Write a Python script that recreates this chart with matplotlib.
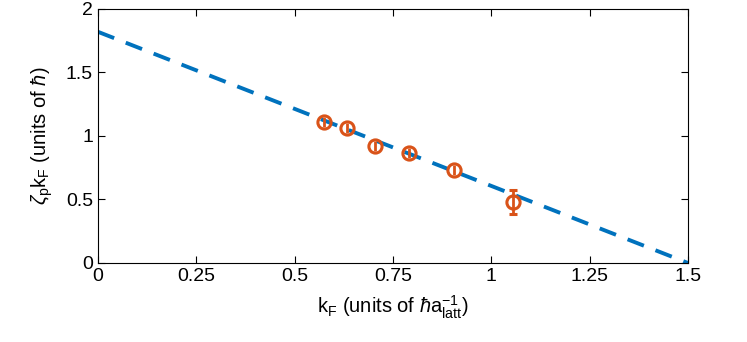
import matplotlib
matplotlib.use("Agg")
import matplotlib.pyplot as plt
import numpy as np

plt.rcParams['font.family'] = ['Liberation Sans', 'DejaVu Sans']
plt.rcParams['mathtext.fontset'] = 'custom'
plt.rcParams['mathtext.rm'] = 'Liberation Sans'
plt.rcParams['mathtext.it'] = 'Liberation Sans:italic'

# measured points
kF = [0.575, 0.633, 0.704, 0.791, 0.905, 1.055]
zeta_kF = [1.110, 1.063, 0.921, 0.866, 0.732, 0.480]
err = [0.038, 0.038, 0.038, 0.038, 0.038, 0.094]

# linear fit line
fit_x = [0.0, 1.5]
fit_y = [1.82, 0.0]

fig = plt.figure(figsize=(7.47, 3.42), dpi=100)
ax = fig.add_axes([0.131, 0.231, 0.79, 0.743])

ax.plot(fit_x, fit_y, color='#0072BD', linewidth=2.8, dashes=(4.5, 3.2))
# small error bars hide under the marker ring, only the last one shows caps
ax.errorbar(kF[:-1], zeta_kF[:-1], yerr=err[:-1], fmt='o', color='#D95319', mfc='none',
            markersize=9.5, mew=2.2, elinewidth=2, capsize=0)
ax.errorbar(kF[-1:], zeta_kF[-1:], yerr=err[-1:], fmt='o', color='#D95319', mfc='none',
            markersize=9.5, mew=2.2, elinewidth=2, capsize=3, capthick=2)

ax.set_xlim(0, 1.5)
ax.set_ylim(0, 2)
ax.set_xticks([0, 0.25, 0.5, 0.75, 1, 1.25, 1.5])
ax.set_xticklabels(['0', '0.25', '0.5', '0.75', '1', '1.25', '1.5'])
ax.set_yticks([0, 0.5, 1, 1.5, 2])
ax.set_yticklabels(['0', '0.5', '1', '1.5', '2'])
ax.tick_params(direction='in', top=True, right=True, labelsize=14, length=5, width=0.8)
for s in ax.spines.values():
    s.set_linewidth(0.8)

ax.set_xlabel(r'$\mathrm{k_F}$ (units of $\hbar\mathrm{a}_\mathrm{latt}^{-1}$)', fontsize=14.5, labelpad=6)
ax.set_ylabel(r'$\zeta_\mathrm{p}\mathrm{k_F}$ (units of $\hbar$)', fontsize=14.5, labelpad=8)

fig.savefig('out.png', dpi=100)
